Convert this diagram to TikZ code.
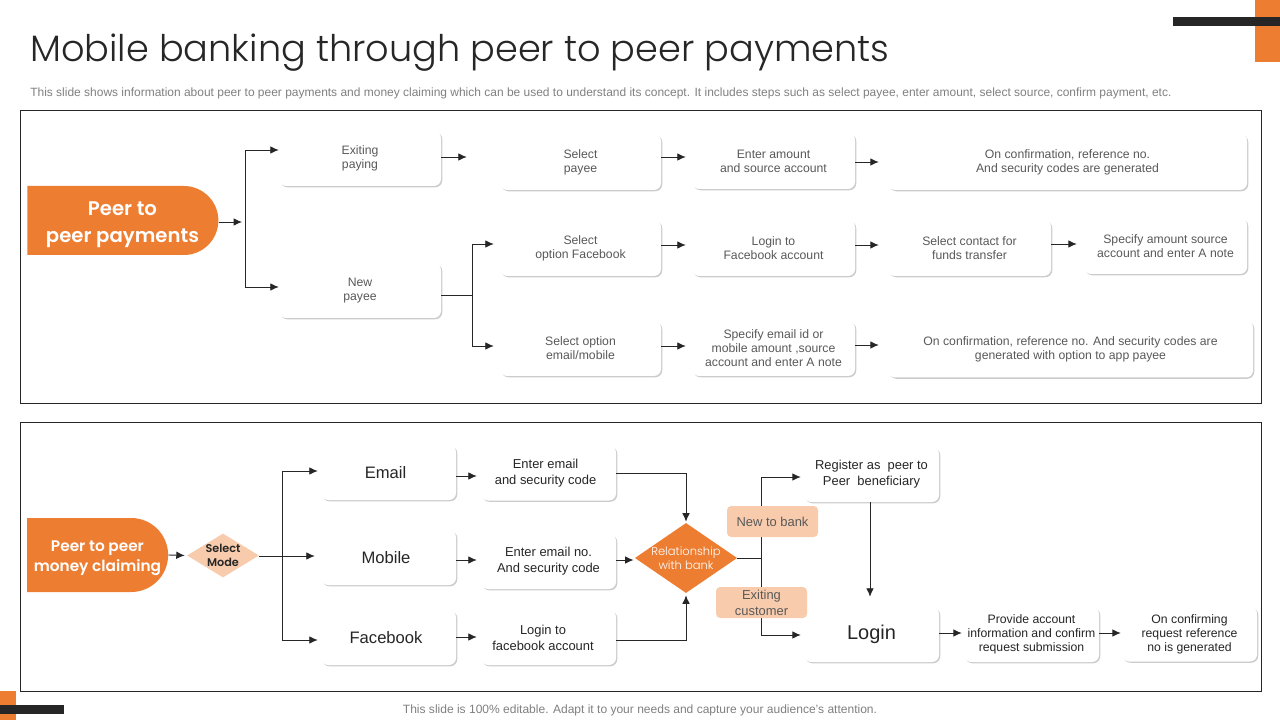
\documentclass[tikz,border=0pt]{standalone}
\usepackage{fontspec}
\setmainfont{Liberation Sans}
\newfontfamily\headfont{Poppins SemiBold}
\newfontfamily\lightfont{Poppins Light}
\usetikzlibrary{arrows.meta, shapes.geometric, shapes.misc, shadows}
\definecolor{bankorange}{HTML}{ED7D31}
\definecolor{bankpeach}{HTML}{F8CBAD}
\definecolor{bankdark}{HTML}{262626}
\definecolor{bankgrey}{HTML}{595959}
\definecolor{banknote}{HTML}{7F7F7F}
\def\px{0.025cm}
\tikzset{
 paybox/.style={rectangle, rounded corners=5pt, fill=white, align=center, inner sep=0pt, text=bankgrey,
  font=\fontsize{8.7}{10}\selectfont,
  drop shadow={shadow xshift=0.9pt, shadow yshift=-0.9pt, fill=black!20, opacity=1}},
 claimbox/.style={paybox, text=bankdark, minimum width=135*\px, minimum height=55*\px, font=\fontsize{9.2}{11.3}\selectfont},
 modebox/.style={claimbox, font=\fontsize{11.8}{14}\selectfont},
 startnode/.style={rounded rectangle, rounded rectangle west arc=none, fill=bankorange, text=white,
  align=center, inner sep=0pt, font=\headfont},
 tagbox/.style={rectangle, rounded corners=3pt, fill=bankpeach, text=bankgrey, align=center, inner sep=0pt,
  minimum width=91*\px, minimum height=31*\px, font=\fontsize{9.2}{11.2}\selectfont},
 flow/.style={->, bankdark, line width=0.65pt},
 wire/.style={bankdark, line width=0.65pt},
 frame/.style={draw=bankdark, line width=0.65pt},
}
\begin{document}
\begin{tikzpicture}[x=0.025cm, y=-0.025cm, >={Latex[length=6pt,width=5.4pt]}]
 \useasboundingbox (0,0) rectangle (1280,720);
 % Header and corners
 \fill[bankorange] (1255,0) rectangle (1280,62);
 \fill[bankdark] (1173,17) rectangle (1280,26);
 \fill[bankorange] (0,691) rectangle (16,720);
 \fill[bankdark] (0,705) rectangle (64,714);
 \node[anchor=base west, inner sep=0pt, text=bankdark, font=\lightfont\fontsize{26.1}{30}\selectfont] (title) at (30,62) {Mobile banking through peer to peer payments};
 \node[anchor=base west, inner sep=0pt, text=banknote, font=\fontsize{8.52}{10}\selectfont] (intro) at (30,97) {This slide shows information about peer to peer payments and money claiming which can be used to understand its concept. It includes steps such as select payee, enter amount, select source, confirm payment, etc.};
 \node[anchor=base, inner sep=0pt, text=banknote, font=\fontsize{8.55}{10}\selectfont] (foot) at (640,713) {This slide is 100\% editable. Adapt it to your needs and capture your audience's attention.};
 \draw[frame] (20,110) rectangle (1261,403);
 \draw[frame] (20,422) rectangle (1261,691.5);

 % Peer to peer payments
 \node[startnode, minimum width=191*\px, minimum height=69*\px, font=\headfont\fontsize{14}{18.6}\selectfont] (peer) at (116.5,220.5) {\rule{0pt}{15.8pt}\kern8.5pt Peer to\\\kern8.5pt peer payments};
 \node[paybox, minimum width=162*\px, minimum height=55*\px] (exiting) at (360,158.5) {Exiting\\paying};
 \node[paybox, minimum width=162*\px, minimum height=55*\px] (newpayee) at (360,290.5) {New\\payee};
 \node[paybox, minimum width=161*\px, minimum height=56*\px] (selpayee) at (580.5,162) {Select\\payee};
 \node[paybox, minimum width=163*\px, minimum height=56*\px] (enteramt) at (773.5,161) {Enter amount\\and source account};
 \node[paybox, minimum width=359*\px, minimum height=56*\px] (confirmA) at (1067.5,162) {On confirmation, reference no.\\And security codes are generated};
 \node[paybox, minimum width=161*\px, minimum height=56*\px] (selfb) at (580.5,248) {Select\\option Facebook};
 \node[paybox, minimum width=163*\px, minimum height=56*\px] (loginfb) at (773.5,248) {Login to\\Facebook account};
 \node[paybox, minimum width=163*\px, minimum height=56*\px] (contact) at (969.5,248) {Select contact for\\funds transfer};
 \node[paybox, minimum width=163*\px, minimum height=56*\px] (specify) at (1165.5,246) {Specify amount source\\account and enter A note};
 \node[paybox, minimum width=161*\px, minimum height=55*\px] (selmail) at (580.5,348.5) {Select option\\email/mobile};
 \node[paybox, minimum width=163*\px, minimum height=55*\px] (specmail) at (773.5,348.5) {Specify email id or\\mobile amount ,source\\account and enter A note};
 \node[paybox, minimum width=365*\px, minimum height=57*\px] (confirmB) at (1070.5,349) {On confirmation, reference no. And security codes are\\generated with option to app payee};

 \coordinate (busA) at (245,222);
 \coordinate (busB) at (472,295);
 \draw[flow, shorten >=3*\px] (peer.east |- busA) -- (busA);
 \draw[flow] (busA) |- (exiting.west |- 0,150);
 \draw[flow] (busA) |- (newpayee.west |- 0,287);
 \draw[wire] (newpayee.east |- busB) -- (busB);
 \draw[flow, shorten >=6*\px] (busB) |- (selfb.west |- 0,244);
 \draw[flow, shorten >=6*\px] (busB) |- (selmail.west |- 0,346);
 \foreach \a/\b/\y/\s in {exiting/selpayee/157/33, selpayee/enteramt/157/6, enteramt/confirmA/162/9,
  selfb/loginfb/245/6, loginfb/contact/245/9, contact/specify/244/7,
  selmail/specmail/346/6, specmail/confirmB/345/9}
  \draw[flow, shorten >=\s*\px] (\a.east |- 0,\y) -- (\b.west |- 0,\y);

 % Peer to peer money claiming
 \node[startnode, minimum width=141*\px, minimum height=74*\px, font=\headfont\fontsize{10.9}{14}\selectfont] (claim) at (94.5,555) {\rule{0pt}{12.3pt}\kern4.2pt Peer to peer\\\kern4.2pt money claiming};
 \node[diamond, aspect=1.64, fill=bankpeach, text=bankdark, inner sep=0pt, minimum width=72*\px, minimum height=44*\px, align=center, font=\headfont\fontsize{8}{9.9}\selectfont] (mode) at (223,555.5) {Select\\Mode};
 \node[modebox] (email) at (388.5,472.5) {Email\kern4.2pt};
 \node[modebox] (mobile) at (388.5,557.5) {Mobile\kern3.5pt};
 \node[modebox] (facebook) at (388.5,637.5) {Facebook\kern3.5pt};
 \node[claimbox] (entermail) at (548.5,473) {Enter email\kern4.2pt\\and security code\kern4.2pt};
 \node[claimbox] (enterno) at (548.5,561.5) {Enter email no.\\And security code};
 \node[claimbox] (loginface) at (548.5,637.5) {Login to\kern7.8pt\\facebook account\kern7.8pt};
 \node[diamond, aspect=1.46, fill=bankorange, text=white, inner sep=0pt, minimum width=101*\px, minimum height=68*\px, align=center, font=\lightfont\fontsize{8.2}{9.8}\selectfont] (relation) at (686,558) {Relationship\\with bank};
 \node[claimbox] (register) at (871.5,474.5) {Register as\ \ peer to\\Peer\ \ beneficiary};
 \node[modebox, font=\fontsize{14.2}{16}\selectfont] (login) at (871.5,634.5) {Login};
 \node[claimbox, font=\fontsize{8.7}{10}\selectfont] (provide) at (1031.5,634.5) {Provide account\\information and confirm\\request submission};
 \node[claimbox, font=\fontsize{8.7}{10}\selectfont] (result) at (1189.5,634) {On confirming\\request reference\\no is generated};

 \coordinate (busC) at (282,556);
 \coordinate (busD) at (761,558);
 \draw[flow, shorten >=2*\px] (claim.east) -- (mode.west);
 \draw[wire] (mode.east |- busC) -- (busC);
 \draw[flow, shorten >=6*\px] (busC) -- (mobile.west |- busC);
 \draw[flow, shorten >=3*\px] (busC) |- (email.west |- 0,471);
 \draw[flow, shorten >=3*\px] (busC) |- (facebook.west |- 0,640);
 \foreach \a/\b/\y/\s in {email/entermail/476/4, mobile/enterno/560/4, facebook/loginface/637/4,
  enterno/relation/560/1, login/provide/633/2, provide/result/633/1}
  \draw[flow, shorten >=\s*\px] (\a.east |- 0,\y) -- (\b.west |- 0,\y);
 \draw[flow, shorten >=1*\px] (entermail.east |- 0,473) -| (relation.north);
 \draw[flow, shorten >=2*\px] (loginface.east |- 0,640) -| (relation.south);
 \draw[wire] (relation.east) -- (busD);
 \draw[flow, shorten >=3*\px] (busD) |- (register.west |- 0,477);
 \draw[flow, shorten >=3*\px] (busD) |- (login.west |- 0,635);
 \draw[flow, shorten >=10*\px] (register.south -| 870,0) -- (login.north -| 870,0);
 \node[tagbox] (newbank) at (772.5,521.5) {New to bank};
 \node[tagbox] (existing) at (761.5,602.5) {Exiting\\customer};
\end{tikzpicture}
\end{document}
